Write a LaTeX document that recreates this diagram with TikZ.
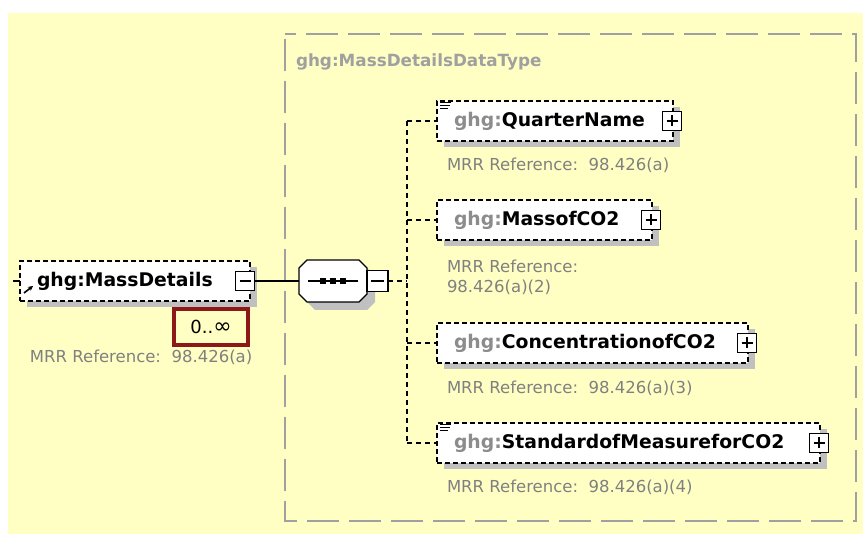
\documentclass[tikz,border=0pt]{standalone}
\usepackage{fontspec}
\setmainfont{DejaVu Sans}
\usetikzlibrary{positioning,shadows,arrows.meta}

\definecolor{bgyellow}{RGB}{255,255,196}
\definecolor{typegray}{RGB}{160,160,160}
\definecolor{shadegray}{RGB}{192,192,192}
\definecolor{nsgray}{RGB}{140,140,140}
\definecolor{refgray}{RGB}{128,128,128}
\definecolor{multred}{RGB}{140,24,24}

\newcommand\ns[1]{{\color{nsgray}#1}}
% three short lines in the top left corner of a box
\newcommand\docicon[1]{\foreach \dy/\len in {2pt/11pt,5pt/10pt,8pt/8pt}
    \draw[line width=1pt] ([xshift=3pt,yshift=-\dy]#1.north west) -- ++(\len,0pt);}

\begin{document}
\begin{tikzpicture}[x=1pt,y=-1pt,
        every node/.style={inner sep=0pt,outer sep=0pt},
        elem/.style={rectangle,draw,fill=white,dash pattern=on 5pt off 3pt,line width=1.2pt,
            minimum height=40pt,inner xsep=17pt,align=left,anchor=west,
            font=\fontsize{18.8}{22}\selectfont\bfseries, % element names
            drop shadow={shadow xshift=7pt,shadow yshift=-6pt,fill=shadegray,opacity=1}},
        plusbox/.style={rectangle,draw,solid,fill=white,line width=1.1pt,minimum size=19pt,
            path picture={\draw[line width=1.1pt]
                ([xshift=4pt]path picture bounding box.west) -- ([xshift=-4pt]path picture bounding box.east)
                ([yshift=-4pt]path picture bounding box.north) -- ([yshift=4pt]path picture bounding box.south);}},
        minusbox/.style={rectangle,draw,solid,fill=white,line width=1.1pt,minimum size=19pt,
            path picture={\draw[line width=1.1pt]
                ([xshift=4pt]path picture bounding box.west) -- ([xshift=-4pt]path picture bounding box.east);}},
        seqbox/.style={rectangle,minimum width=68pt,minimum height=42pt},
        branch/.style={line width=1.2pt,dash pattern=on 5pt off 4pt},
        mrr/.style={text=refgray,anchor=west,align=left,font=\fontsize{16.5}{20}\selectfont}
    ]
    \useasboundingbox (0,0) rectangle (863,534);
    \fill[bgyellow] (8,13) rectangle (863,534);

    % complex type group
    \draw[typegray,line width=1.6pt,dash pattern=on 32pt off 10pt,dash phase=37pt]
        (285,34) rectangle (856,521);
    \node[text=typegray,anchor=west,font=\fontsize{16.8}{20}\selectfont\bfseries] (typename)
        at (296,62) {ghg:MassDetailsDataType};

    % root element
    \node[elem,text width=196pt] (mass) at (20,281) {ghg:MassDetails};
    \node[minusbox] (massminus) at ([xshift=-5pt]mass.east) {};
    \coordinate (stub) at (13,281);
    \draw[line width=1.2pt] (stub) -- (mass.west);
    \draw[line width=1.6pt,-{Stealth[length=5pt,width=5pt]}] ([shift={(4pt,-12pt)}]mass.west) -- ++(9pt,7pt);
    \node[draw=multred,line width=4pt,minimum width=74pt,minimum height=36pt,
        font=\fontsize{18}{20}\selectfont] (mult) at (211,327) {0..{\fontsize{22}{20}\selectfont∞}};
    \node[mrr] (massref) at (30,357) {MRR Reference:\ \ 98.426(a)};

    % sequence compositor
    \node[seqbox] (seq) at (333,281) {};
    \filldraw[fill=white,line width=1.1pt,
        drop shadow={shadow xshift=8pt,shadow yshift=-8pt,fill=shadegray,opacity=1}]
        ([xshift=8pt]seq.north west) -- ([xshift=-8pt]seq.north east)
        -- ([yshift=-8pt]seq.north east) -- ([yshift=8pt]seq.south east)
        -- ([xshift=-8pt]seq.south east) -- ([xshift=8pt]seq.south west)
        -- ([yshift=8pt]seq.south west) -- ([yshift=-8pt]seq.north west) -- cycle;
    \draw[line width=1.1pt] ([xshift=9pt]seq.west) -- ([xshift=-9pt]seq.east);
    \foreach \dx in {-10pt,0pt,10pt}
        \fill ([xshift=\dx]seq.center) ++(-3pt,-3pt) rectangle ++(6pt,6pt);
    \node[minusbox,minimum size=21pt,right=0pt of seq] (seqminus) {};
    \draw[line width=1.2pt] (massminus) -- (seq);

    % child elements
    \node[elem,text width=202pt] (quarter) at (437,121) {\ns{ghg:}QuarterName};
    \node[elem,text width=181pt] (massco2) at (437,220) {\ns{ghg:}MassofCO2};
    \node[elem,text width=277pt] (conc) at (437,343) {\ns{ghg:}ConcentrationofCO2};
    \node[elem,text width=349pt] (std) at (437,443) {\ns{ghg:}StandardofMeasureforCO2};
    \foreach \c in {quarter,massco2,conc,std}
        \node[plusbox] (\c plus) at ([xshift=-1pt]\c.east) {};
    \docicon{quarter}
    \docicon{std}

    \node[mrr] (quarterref) at (447,165) {MRR Reference:\ \ 98.426(a)};
    \node[mrr] (massco2ref) at (447,277) {MRR Reference:\\98.426(a)(2)};
    \node[mrr] (concref) at (447,388) {MRR Reference:\ \ 98.426(a)(3)};
    \node[mrr] (stdref) at (447,487) {MRR Reference:\ \ 98.426(a)(4)};

    % dashed connectors
    \coordinate (fork) at (407,281);
    \draw[branch] (seqminus) -- (fork);
    \draw[branch] (fork |- quarter.west) -- (fork |- std.west);
    \foreach \c in {quarter,massco2,conc,std}
        \draw[branch] (fork |- \c.west) -- (\c.west);
\end{tikzpicture}
\end{document}
